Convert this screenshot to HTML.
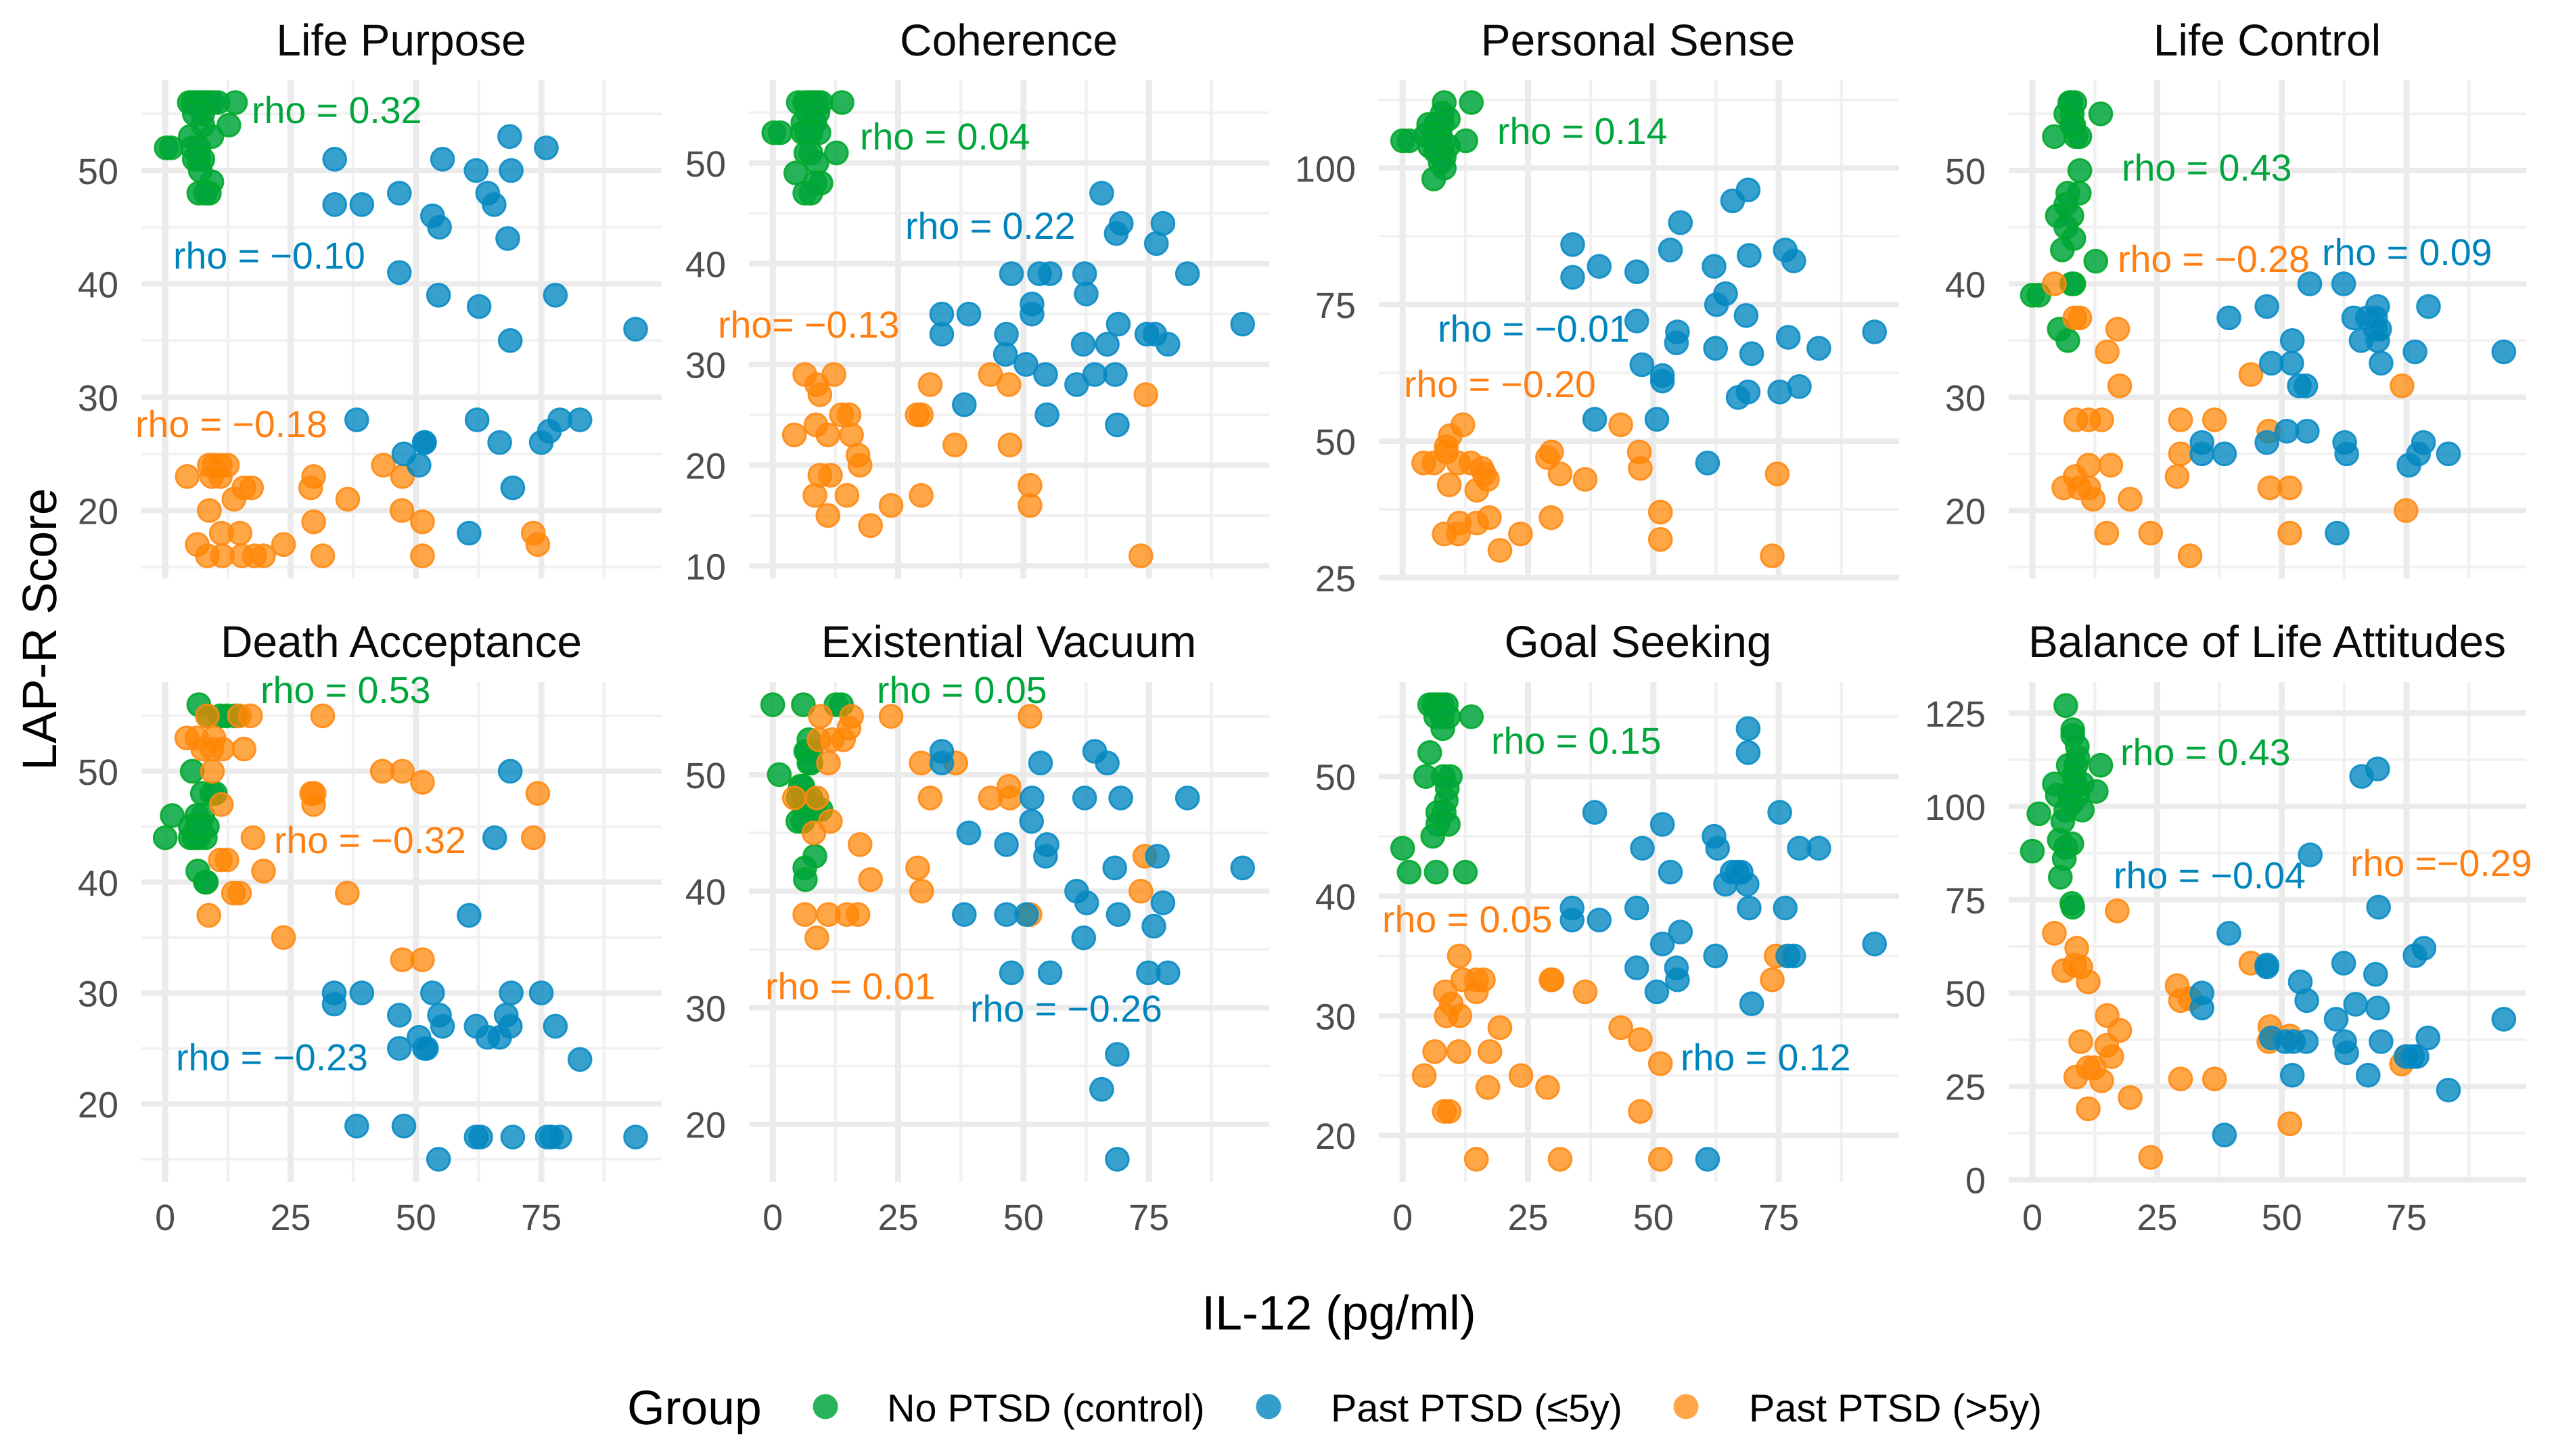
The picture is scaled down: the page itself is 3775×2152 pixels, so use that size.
<!DOCTYPE html>
<html lang="en">
<head>
<meta charset="utf-8">
<title>LAP-R Score vs IL-12 by group</title>
<style>
html,body{margin:0;padding:0;background:#fff;}
svg{display:block;font-family:"Liberation Sans",sans-serif;text-rendering:geometricPrecision;}
.title{font-size:65.8px;fill:#0a0a0a;text-anchor:middle;}
.rho{font-size:55.5px;}
.g{fill:#00A63C;}
.b{fill:#0084BC;}
.o{fill:#FF7F12;}
.axis-title{font-size:71.5px;fill:#000;}
.legend-label{font-size:57.5px;fill:#000;}
.tick{fill:#4D4D4D;}
</style>
</head>
<body>
<svg id="chart" xmlns="http://www.w3.org/2000/svg" width="3775" height="2152" viewBox="0 0 3775 2152">
<rect width="3775" height="2152" fill="#fff"/>
<g id="plots"></g>

<g>
<text class="title" x="593" y="82">Life Purpose</text>
<text class="title" x="1491" y="82">Coherence</text>
<text class="title" x="2421" y="82">Personal Sense</text>
<text class="title" x="3351" y="82">Life Control</text>
<text class="title" x="593" y="971">Death Acceptance</text>
<text class="title" x="1491" y="971">Existential Vacuum</text>
<text class="title" x="2421" y="971">Goal Seeking</text>
<text class="title" x="3351" y="971">Balance of Life Attitudes</text>
</g>

<g>
<text class="rho g" x="372" y="182">rho = 0.32</text>
<text class="rho b" x="256" y="397">rho = −0.10</text>
<text class="rho o" x="200" y="646">rho = −0.18</text>
<text class="rho g" x="1271" y="221">rho = 0.04</text>
<text class="rho b" x="1338" y="353">rho = 0.22</text>
<text class="rho o" x="1061" y="499">rho= −0.13</text>
<text class="rho g" x="2213" y="213">rho = 0.14</text>
<text class="rho b" x="2125" y="505">rho = −0.01</text>
<text class="rho o" x="2075" y="587">rho = −0.20</text>
<text class="rho g" x="3136" y="267">rho = 0.43</text>
<text class="rho o" x="3130" y="402">rho = −0.28</text>
<text class="rho b" x="3432" y="392">rho = 0.09</text>
<text class="rho g" x="385" y="1039">rho = 0.53</text>
<text class="rho o" x="405" y="1261">rho = −0.32</text>
<text class="rho b" x="260" y="1582">rho = −0.23</text>
<text class="rho g" x="1296" y="1039">rho = 0.05</text>
<text class="rho o" x="1131" y="1477">rho = 0.01</text>
<text class="rho b" x="1434" y="1510">rho = −0.26</text>
<text class="rho g" x="2204" y="1114">rho = 0.15</text>
<text class="rho o" x="2043" y="1378">rho = 0.05</text>
<text class="rho b" x="2484" y="1582">rho = 0.12</text>
<text class="rho g" x="3134" y="1131">rho = 0.43</text>
<text class="rho b" x="3124" y="1313">rho = −0.04</text>
<text class="rho o" x="3474" y="1295">rho =−0.29</text>
</g>

<text class="axis-title" transform="translate(83,930) rotate(-90)" text-anchor="middle">LAP-R Score</text>
<text class="axis-title" x="1979" y="1965" text-anchor="middle">IL-12 (pg/ml)</text>

<g>
<text class="axis-title" x="927" y="2105">Group</text>
<g>
<circle cx="1220" cy="2079" r="18.5" fill="#00A63C" fill-opacity=".85"/>
<text class="legend-label" x="1311" y="2101">No PTSD (control)</text>
</g>
<g>
<circle cx="1875" cy="2079" r="18.5" fill="#0085BE" fill-opacity=".8"/>
<text class="legend-label" x="1967" y="2101">Past PTSD (≤5y)</text>
</g>
<g>
<circle cx="2492" cy="2079" r="18.5" fill="#FF8500" fill-opacity=".72"/>
<text class="legend-label" x="2585" y="2101">Past PTSD (&gt;5y)</text>
</g>
</g>
</svg>

<script>
// ---- shared axis values ----
const xDomain = [-4.75, 99];
const xTicks = [0, 25, 50, 75];
const xMinorTicks = [12.5, 37.5, 62.5, 87.5];

// ---- per-panel y axes ----
const lifePurposeYTicks = [20, 30, 40, 50];
const lifePurposeYMinor = [15, 25, 35, 45, 55];
const coherenceYTicks = [10, 20, 30, 40, 50];
const coherenceYMinor = [15, 25, 35, 45, 55];
const personalSenseYTicks = [25, 50, 75, 100];
const personalSenseYMinor = [37.5, 62.5, 87.5, 112.5];
const lifeControlYTicks = [20, 30, 40, 50];
const lifeControlYMinor = [15, 25, 35, 45, 55];
const deathAcceptanceYTicks = [20, 30, 40, 50];
const deathAcceptanceYMinor = [15, 25, 35, 45, 55];
const existentialVacuumYTicks = [20, 30, 40, 50];
const existentialVacuumYMinor = [25, 35, 45, 55];
const goalSeekingYTicks = [20, 30, 40, 50];
const goalSeekingYMinor = [25, 35, 45, 55];
const balanceYTicks = [0, 25, 50, 75, 100, 125];
const balanceYMinor = [12.5, 37.5, 62.5, 87.5, 112.5];

// ---- series values: [IL-12, score] ----
const lifePurposeControl = [[14,56],[0.2,52],[1.2,52],[4.8,56],[5.5,56],[6.2,56],[7,56],[7.8,56],[8.6,56],[9.4,56],[10.5,56],[12.7,54],[9.3,53],[5,53],[7.5,54],[7.5,55],[5.8,55],[6.7,52],[5.4,52],[6.7,51],[7.5,51],[5.8,51],[9.3,49],[7,50],[6.7,48],[8.8,48],[8,48]];
const lifePurposeRemote = [[4.4,23],[8.8,24],[11,24],[12.4,24],[9.7,24],[9.3,23],[11,23],[15.7,22],[17.2,22],[13.7,21],[8.8,20],[11.2,18],[14.9,18],[6.4,17],[8.4,16],[11.4,16],[15.3,16],[17.8,16],[19.6,16],[23.6,17],[29.6,23],[29,22],[36.4,21],[43.5,24],[47.3,23],[29.6,19],[47.2,20],[51.3,19],[31.4,16],[51.3,16],[73.4,18],[74.3,17]];
const lifePurposeRecent = [[33.8,51],[55.3,51],[62,50],[69,50],[68.7,53],[76,52],[33.8,47],[39.2,47],[46.7,48],[53.3,46],[54.7,45],[64.3,48],[65.6,47],[68.3,44],[46.7,41],[54.5,39],[62.6,38],[77.8,39],[68.8,35],[93.8,36],[38.2,28],[62.2,28],[78.7,28],[82.7,28],[76.6,27],[75,26],[66.7,26],[51.7,26],[51.7,26],[47.6,25],[50.6,24],[69.3,22],[60.6,18]];

const coherenceControl = [[13.8,56],[5.1,56],[6.4,56],[7.2,56],[8,56],[8.8,56],[9.6,56],[0.2,53],[1.5,53],[7,55],[9,55],[6,54],[8.4,54],[6,53],[7.6,53],[9.2,53],[6.8,53],[12.7,51],[6.6,51],[7.6,51],[8.8,50],[4.6,49],[9.6,48],[8.4,48],[6.4,47],[7.6,47]];
const coherenceRemote = [[6.4,29],[12.2,29],[8.8,28],[9.4,27],[13.7,25],[15.2,25],[8.6,24],[4.3,23],[11,23],[15.7,23],[17,21],[17.4,20],[9.4,19],[11.5,19],[8.4,17],[14.8,17],[11,15],[19.5,14],[23.6,16],[29.6,17],[31.4,28],[28.8,25],[29.6,25],[36.3,22],[43.4,29],[47.1,28],[47.3,22],[51.3,18],[51.3,16],[74.4,27],[73.4,11]];
const coherenceRecent = [[65.6,47],[69.5,44],[68.5,43],[77.8,44],[76.5,42],[47.6,39],[53.2,39],[55.3,39],[62.2,39],[82.7,39],[62.5,37],[51.7,36],[51.7,35],[33.7,35],[39.1,35],[33.7,33],[46.6,33],[46.4,31],[68.9,34],[93.7,34],[61.9,32],[66.7,32],[74.6,33],[76.2,33],[78.8,32],[50.5,30],[54.4,29],[64.2,29],[68.3,29],[60.6,28],[38.2,26],[54.7,25],[68.7,24]];

const personalSenseControl = [[13.7,112],[8.3,112],[0,105],[1.3,105],[12.6,105],[7.9,110],[9.1,109],[5.2,108],[6.6,108],[7.9,108],[4.6,106],[6.2,106],[7.5,106],[6.6,105],[5.4,104],[9.1,104],[7.9,104],[6.6,103],[8.3,102],[7.5,101],[8.3,100],[6.2,98]];
const personalSenseRemote = [[12,53],[9.5,51],[8.7,48],[8.7,49],[4.2,46],[6.2,46],[11.1,46],[13.6,46],[15.8,45],[16.3,44],[16.9,43],[9.3,42],[14.8,41],[17.3,36],[14.8,35],[11.3,35],[8.3,33],[11.1,33],[19.4,30],[23.5,33],[29.6,36],[29.7,48],[28.9,47],[31.4,44],[36.4,43],[43.5,53],[47.2,48],[47.4,45],[51.4,37],[51.4,32],[74.7,44],[73.7,29]];
const personalSenseRecent = [[68.9,96],[65.8,94],[55.4,90],[53.4,85],[33.9,86],[33.9,80],[39.2,82],[46.7,81],[69.1,84],[62.1,82],[76.3,85],[78,83],[64.4,77],[62.6,75],[68.5,73],[46.7,72],[54.8,70],[54.6,68],[62.4,67],[69.6,66],[76.9,69],[83,67],[94.1,70],[47.7,64],[51.8,62],[51.8,61],[68.9,59],[66.9,58],[75.2,59],[79.1,60],[38.3,54],[50.7,54],[60.8,46]];

const lifeControlControl = [[13.7,55],[7.7,56],[6.7,55],[7.5,56],[8,55],[8.5,56],[4.4,53],[8.7,53],[9.5,53],[8.3,54],[7.9,54],[9.5,50],[9.4,48],[7.1,48],[6.7,47],[5,46],[7.9,46],[6.7,45],[8.3,44],[6,43],[12.7,42],[8.3,40],[7.9,40],[0,39],[1.3,39],[5.4,36],[7.1,35]];
const lifeControlRemote = [[4.4,40],[8.5,37],[9.5,37],[17.1,36],[15,34],[43.8,32],[17.5,31],[74.1,31],[8.7,28],[11.3,28],[13.9,28],[29.7,28],[36.5,28],[47.4,27],[29.7,25],[11.3,24],[15.7,24],[29,23],[8.6,23],[6.3,22],[9.4,22],[11.3,22],[47.6,22],[51.6,22],[12.2,21],[19.6,21],[14.9,18],[23.7,18],[51.6,18],[31.6,16],[74.9,20]];
const lifeControlRecent = [[55.6,40],[62.4,40],[47,38],[69.2,38],[79.4,38],[39.4,37],[64.4,37],[67.1,37],[68.8,37],[68.8,36],[69.6,36],[52.1,35],[65.9,35],[69.2,35],[76.7,34],[94.5,34],[47.9,33],[52,33],[69.9,33],[53.5,31],[54.8,31],[51,27],[55.1,27],[34,26],[47,26],[62.6,26],[78.4,26],[34,25],[38.5,25],[63,25],[77.4,25],[83.4,25],[75.5,24],[61.1,18]];

const deathAcceptanceControl = [[6.7,56],[14,55],[12.3,55],[11,55],[8.4,55],[5.4,50],[7.4,48],[9.3,48],[10,48],[1.4,46],[7.5,46],[6.3,46],[0,44],[5,44],[8,44],[5.8,44],[6.7,44],[8.4,45],[5,45],[6.3,45],[7,45],[6.5,41],[8,40],[8.2,40]];
const deathAcceptanceRemote = [[8.4,55],[14.8,55],[17,55],[31.4,55],[4.3,53],[6.3,53],[9.7,53],[7.5,52],[9.3,52],[11.4,52],[15.7,52],[9.4,50],[43.3,50],[47.3,50],[51.3,49],[29.2,48],[29.7,48],[29.6,47],[11.2,47],[17.5,44],[74.3,48],[73.4,44],[11,42],[12.3,42],[19.6,41],[13.6,39],[14.8,39],[36.3,39],[8.7,37],[23.6,35],[47.3,33],[51.3,33]];
const deathAcceptanceRecent = [[68.8,50],[65.7,44],[60.6,37],[33.7,30],[33.7,29],[39.2,30],[53.3,30],[69,30],[75,30],[46.7,28],[54.7,28],[68,28],[55.3,27],[62,27],[68.8,27],[77.8,27],[64.3,26],[66.7,26],[50.6,26],[46.7,25],[51.7,25],[52.1,25],[82.7,24],[38.2,18],[47.6,18],[62,17],[62.9,17],[69.3,17],[76.2,17],[77,17],[78.7,17],[93.8,17],[54.5,15]];

const existentialVacuumControl = [[0,56],[6.1,56],[12.6,56],[13.7,56],[1.3,50],[7.2,53],[6.8,52],[7.6,52],[6.6,52],[7.2,51],[7.6,51],[5.5,49],[6,49],[5.1,48],[6.1,48],[7.6,48],[8.4,47],[6.4,47],[9.6,47],[5,46],[6,46],[8.4,43],[6.4,42],[6.5,41]];
const existentialVacuumRemote = [[9.5,55],[15.7,55],[23.6,55],[51.3,55],[15.2,54],[9.2,53],[11.8,53],[14.1,53],[11.1,51],[29.6,51],[36.5,51],[47.1,49],[4.3,48],[8.8,48],[31.4,48],[43.4,48],[47.3,48],[11.5,46],[8.2,45],[17.4,44],[74.2,43],[28.9,42],[19.5,41],[29.7,40],[73.4,40],[6.4,38],[11.1,38],[14.8,38],[17,38],[51.3,38],[8.8,36]];
const existentialVacuumRecent = [[33.7,52],[33.7,51],[64.2,52],[66.7,51],[53.4,51],[51.7,48],[62.2,48],[69.4,48],[82.7,48],[51.6,46],[39.1,45],[46.6,44],[54.7,44],[54.4,43],[76.7,43],[68.2,42],[93.7,42],[60.6,40],[62.6,39],[77.8,39],[38.2,38],[46.6,38],[50.6,38],[68.9,38],[76,37],[62,36],[47.6,33],[55.3,33],[74.9,33],[78.8,33],[68.7,26],[65.6,23],[68.7,17]];

const goalSeekingControl = [[13.7,55],[5.4,56],[6.2,56],[7,56],[7.9,56],[8.7,56],[6.6,55],[7.9,55],[9.1,55],[8,54],[5.4,52],[4.6,50],[8.1,50],[9.5,50],[8.9,49],[8.7,48],[7,47],[8.3,47],[7,46],[9.1,46],[6,45],[0,44],[1.3,42],[6.7,42],[12.5,42]];
const goalSeekingRemote = [[11.3,35],[74.5,35],[12,33],[14.7,33],[16.1,33],[29.6,33],[29.8,33],[73.7,33],[8.5,32],[14.7,32],[36.4,32],[9.7,31],[8.7,30],[11.4,30],[19.4,29],[43.5,29],[47.4,28],[6.4,27],[11.2,27],[17.4,27],[51.4,26],[4.3,25],[23.6,25],[17,24],[28.9,24],[8.3,22],[9.3,22],[47.4,22],[14.7,18],[31.4,18],[51.4,18]];
const goalSeekingRecent = [[68.9,54],[68.9,52],[38.3,47],[75.2,47],[51.8,46],[62.1,45],[47.8,44],[62.8,44],[79.1,44],[83,44],[53.4,42],[65.7,42],[66.7,42],[67.5,42],[64.4,41],[68.7,41],[33.8,39],[46.7,39],[69.1,39],[76.3,39],[33.8,38],[39.2,38],[55.4,37],[51.8,36],[94.1,36],[62.4,35],[76.8,35],[78,35],[46.7,34],[54.6,34],[54.8,33],[50.7,32],[69.6,31],[60.8,18]];

const balanceControl = [[6.7,127],[8.1,120.5],[8.1,119],[9,116],[9.1,113],[13.7,111],[7.2,111],[8.7,111],[4.4,106],[8.3,108],[10,106],[8.7,105.5],[12.8,104],[5,103],[7.5,103],[9.1,103],[7.9,101],[10,99],[1.3,98],[6.7,99],[6.1,96],[5.4,91],[7.9,90],[6.7,89],[6.4,86],[0,88],[5.6,81],[7.9,74],[8.1,73]];
const balanceRemote = [[17,72],[4.4,66],[8.9,62],[8.5,57.5],[9.7,57],[6.3,56],[11.2,53],[43.8,58],[29,52],[29.7,48],[31.6,48.5],[15,44],[17.5,40],[9.7,37],[47.6,41],[51.6,38.5],[47.4,37],[14.9,36],[15.9,33],[74.9,33],[74,31],[11.2,30],[12.4,30],[8.7,27.5],[13.9,26.5],[29.7,27],[36.5,27],[19.6,22],[11.2,19],[51.6,15],[23.7,6]];
const balanceRecent = [[69.2,110],[66,108],[55.7,87],[69.4,73],[39.4,66],[78.5,62],[76.7,60],[47,57.5],[47,57],[62.4,58],[68.8,55],[53.7,53],[55,48],[34,50],[34,46],[64.8,47],[69.2,46],[60.9,43],[94.5,43],[79.3,38],[62.6,37],[47.9,38],[50.7,37],[52.3,37],[54.9,37],[69.9,37],[63,34],[74.9,33],[76.2,33],[77.1,33],[67.3,28],[52.1,28],[83.4,24],[38.5,12]];

// ---- layout (pixels) ----
const SVGNS = 'http://www.w3.org/2000/svg';
const columnRanges = [[209, 978], [1107, 1876], [2038, 2807], [2969, 3734]];
const rowRanges = [[118, 855], [1008, 1747]];
const seriesStyles = {
  control: { fill: '#00A63C', stroke: '#00A82A', opacity: 0.85 },
  remote: { fill: '#FF8500', stroke: '#FF8A14', opacity: 0.72 },
  recent: { fill: '#0085BE', stroke: '#0A8CC6', opacity: 0.78 }
};

const panels = [
  { slug: 'life-purpose', col: 0, row: 0, yDomain: [14, 58], yTicks: lifePurposeYTicks, yMinor: lifePurposeYMinor, control: lifePurposeControl, remote: lifePurposeRemote, recent: lifePurposeRecent },
  { slug: 'coherence', col: 1, row: 0, yDomain: [8.75, 58.25], yTicks: coherenceYTicks, yMinor: coherenceYMinor, control: coherenceControl, remote: coherenceRemote, recent: coherenceRecent },
  { slug: 'personal-sense', col: 2, row: 0, yDomain: [24.85, 116.15], yTicks: personalSenseYTicks, yMinor: personalSenseYMinor, control: personalSenseControl, remote: personalSenseRemote, recent: personalSenseRecent },
  { slug: 'life-control', col: 3, row: 0, yDomain: [14, 58], yTicks: lifeControlYTicks, yMinor: lifeControlYMinor, control: lifeControlControl, remote: lifeControlRemote, recent: lifeControlRecent },
  { slug: 'death-acceptance', col: 0, row: 1, yDomain: [12.95, 58.05], yTicks: deathAcceptanceYTicks, yMinor: deathAcceptanceYMinor, control: deathAcceptanceControl, remote: deathAcceptanceRemote, recent: deathAcceptanceRecent },
  { slug: 'existential-vacuum', col: 1, row: 1, yDomain: [15.05, 57.95], yTicks: existentialVacuumYTicks, yMinor: existentialVacuumYMinor, control: existentialVacuumControl, remote: existentialVacuumRemote, recent: existentialVacuumRecent },
  { slug: 'goal-seeking', col: 2, row: 1, yDomain: [16.1, 57.9], yTicks: goalSeekingYTicks, yMinor: goalSeekingYMinor, control: goalSeekingControl, remote: goalSeekingRemote, recent: goalSeekingRecent },
  { slug: 'balance-of-life-attitudes', col: 3, row: 1, yDomain: [-0.6, 133.3], yTicks: balanceYTicks, yMinor: balanceYMinor, control: balanceControl, remote: balanceRemote, recent: balanceRecent }
];

function linearScale(domain, range) {
  const k = (range[1] - range[0]) / (domain[1] - domain[0]);
  return function (v) { return range[0] + (v - domain[0]) * k; };
}

function gridLine(parent, x1, y1, x2, y2, width, color) {
  const line = document.createElementNS(SVGNS, 'line');
  line.setAttribute('x1', x1);
  line.setAttribute('y1', y1);
  line.setAttribute('x2', x2);
  line.setAttribute('y2', y2);
  line.setAttribute('stroke', color);
  line.setAttribute('stroke-width', width);
  
  
  parent.appendChild(line);
}

function tickLabel(parent, x, y, anchor, size, value) {
  const t = document.createElementNS(SVGNS, 'text');
  t.setAttribute('x', x);
  t.setAttribute('y', y);
  t.setAttribute('text-anchor', anchor);
  t.setAttribute('font-size', size);
  t.setAttribute('class', 'tick');
  
  
  t.textContent = String(value);
  parent.appendChild(t);
}

function drawSeries(parent, points, style, name, xScale, yScale) {
  const g = document.createElementNS(SVGNS, 'g');
  
  
  points.forEach(function (p) {
    const c = document.createElementNS(SVGNS, 'circle');
    c.setAttribute('cx', xScale(p[0]).toFixed(1));
    c.setAttribute('cy', yScale(p[1]).toFixed(1));
    c.setAttribute('r', '16.8');
    c.setAttribute('fill', style.fill);
    c.setAttribute('fill-opacity', style.opacity);
    c.setAttribute('stroke', style.stroke);
    c.setAttribute('stroke-opacity', '0.9');
    c.setAttribute('stroke-width', '3');
    
    
    g.appendChild(c);
  });
  parent.appendChild(g);
}

const root = document.getElementById('plots');
panels.forEach(function (panel) {
  const xr = columnRanges[panel.col];
  const yr = rowRanges[panel.row];
  const xScale = linearScale(xDomain, xr);
  const yScale = linearScale(panel.yDomain, [yr[1], yr[0]]);
  const g = document.createElementNS(SVGNS, 'g');
  
  
  root.appendChild(g);

  panel.yMinor.forEach(function (v) { gridLine(g, xr[0], yScale(v), xr[1], yScale(v), 4, '#F1F1F1'); });
  xMinorTicks.forEach(function (v) { gridLine(g, xScale(v), yr[0], xScale(v), yr[1], 4.5, '#F1F1F1'); });
  panel.yTicks.forEach(function (v) { gridLine(g, xr[0], yScale(v), xr[1], yScale(v), 8, '#EBEBEB'); });
  xTicks.forEach(function (v) { gridLine(g, xScale(v), yr[0], xScale(v), yr[1], 9, '#EBEBEB'); });

  panel.yTicks.forEach(function (v) { tickLabel(g, xr[0] - 34, yScale(v) + 20, 'end', 54, v); });
  if (panel.row === 1) {
    xTicks.forEach(function (v) { tickLabel(g, xScale(v), 1818, 'middle', 54, v); });
  }

  drawSeries(g, panel.control, seriesStyles.control, 'series-no-ptsd-control', xScale, yScale);
  drawSeries(g, panel.remote, seriesStyles.remote, 'series-past-ptsd-over-5y', xScale, yScale);
  drawSeries(g, panel.recent, seriesStyles.recent, 'series-past-ptsd-under-5y', xScale, yScale);
});
</script>
</body>
</html>
